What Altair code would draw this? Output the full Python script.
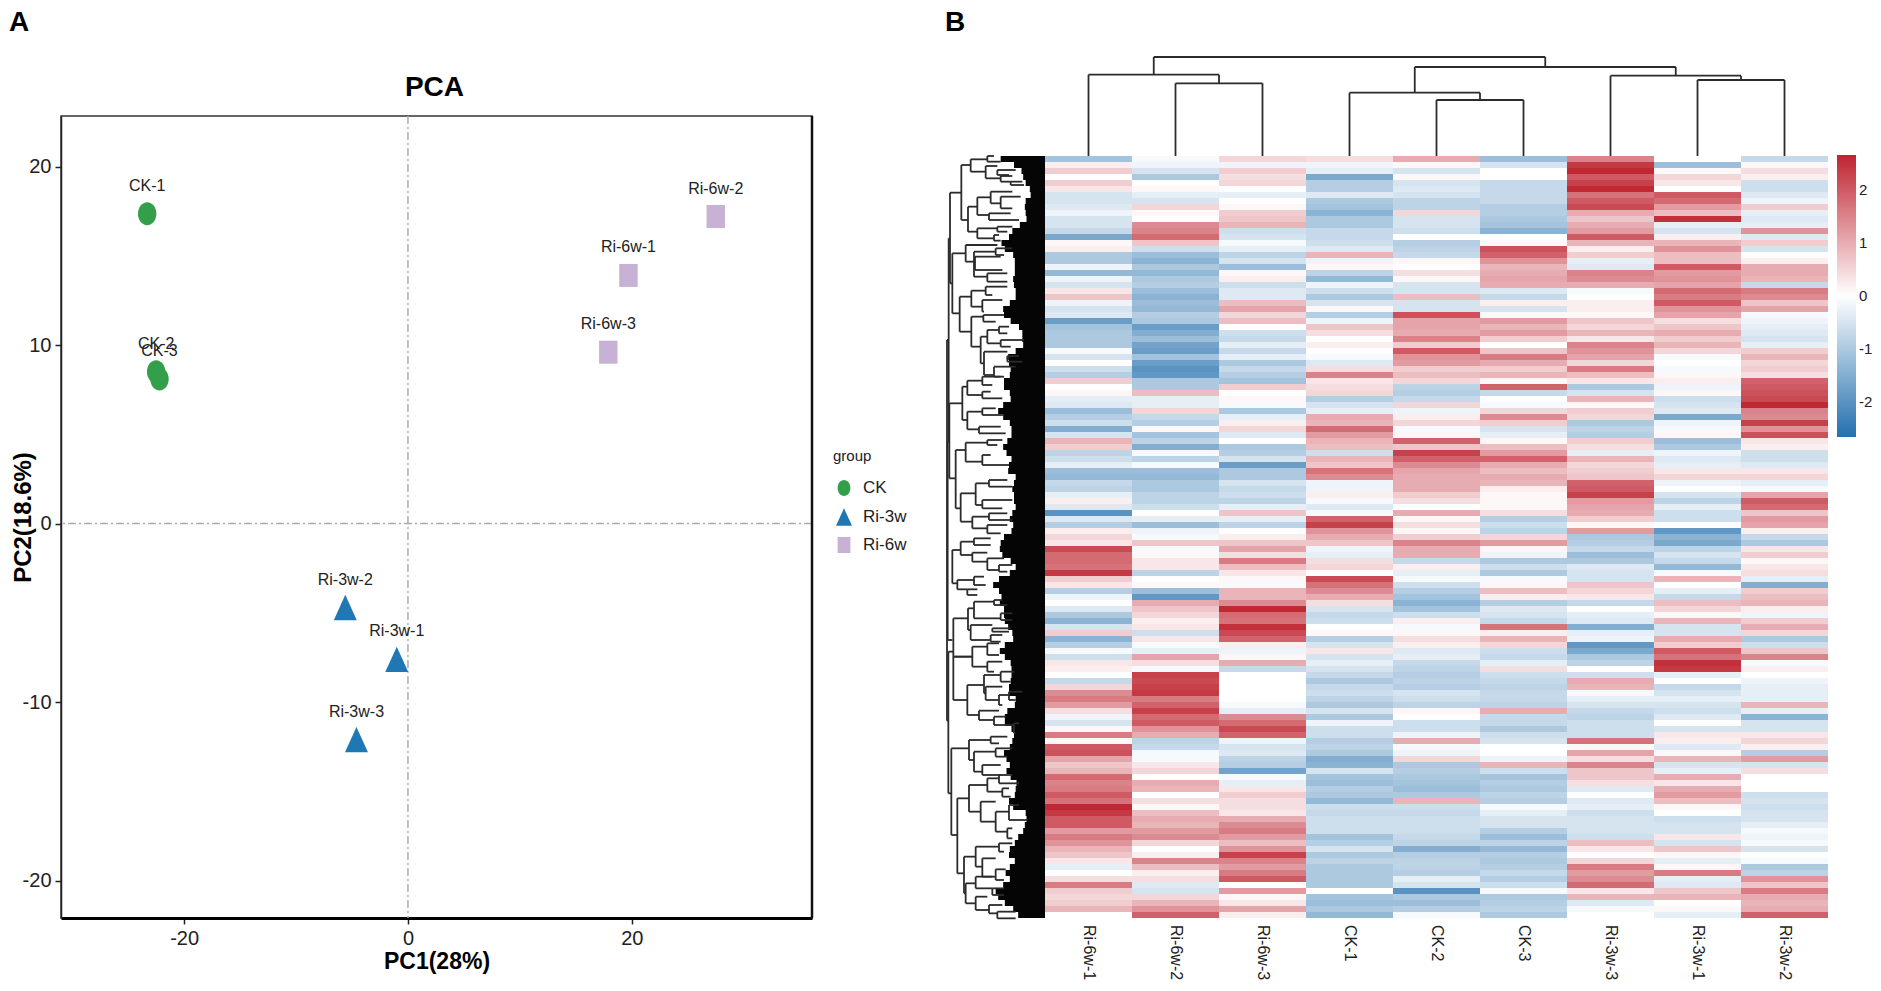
import altair as alt
import pandas as pd

SANS = "Liberation Sans, Arial"

# ---------- panel A ----------
samples = ["CK-1", "CK-2", "CK-3", "Ri-3w-1", "Ri-3w-2", "Ri-3w-3", "Ri-6w-1", "Ri-6w-2", "Ri-6w-3"]
groups = ["CK", "CK", "CK", "Ri-3w", "Ri-3w", "Ri-3w", "Ri-6w", "Ri-6w", "Ri-6w"]
pc1 = [-23.3, -22.5, -22.2, -1.0, -5.6, -4.6, 19.7, 27.5, 17.9]
pc2 = [17.35, 8.5, 8.1, -7.6, -4.7, -12.1, 13.9, 17.2, 9.6]
group_names = ["CK", "Ri-3w", "Ri-6w"]
group_colors = ["#339f4a", "#1f78b4", "#c7b1d5"]
group_shapes = ["M-0.8,0A0.8,1 0 1 1 0.8,0A0.8,1 0 1 1 -0.8,0Z",
                "M0,-1.1L1,1.1L-1,1.1Z",
                "M-0.8,-1L0.8,-1L0.8,1L-0.8,1Z"]

# ---------- panel B: heat map columns, top to bottom ----------
col_names = ["Ri-6w-1", "Ri-6w-2", "Ri-6w-3", "CK-1", "CK-2", "CK-3", "Ri-3w-3", "Ri-3w-1", "Ri-3w-2"]
c0 = [-1.1,.2,.6,0,.6,.3,-.5,-.5,-.4,-.2,-.5,-.5,-.7,-1.6,.1,.2,-1,-1,-.2,-1.3,-.2,-.5,.3,.7,-.2,-.5,-.4,-1.8,-1.1,-1,-1,-1,
      -.1,-.5,0,-.6,-.9,.6,0,.1,-.3,-.4,-1.2,-.9,-.6,-1.5,-.5,.9,.6,-.8,-.6,-.3,-1.2,-1.3,-.7,-.8,-.3,.2,-.4,-2,-.4,-.9,.2,.5,
      .3,2.2,1.8,1.8,1.7,2.4,.6,.3,-.9,-.2,0,-.4,-1,-1.4,-.5,.6,-1.4,-.9,-.1,-.6,.3,.2,0,-.7,.5,1.4,1.6,1.2,.4,-.2,-.5,.1,
      1.6,.1,2,2.1,1.1,.7,.9,1.8,1.5,1.6,2,1.7,2.6,2.4,2,2,1.2,1.6,1.3,.9,.7,.3,-.3,0,.4,1.6,.6,.5,.6,.9,0]
c1 = [-.1,-.2,-.5,-1,0,.1,-.3,-.5,.5,.1,0,1.4,1.5,1.8,.7,-.6,-1.2,-1.4,-1,-1.3,-1,-.9,-1.2,-1.4,-1.2,-1.3,-.9,-1,-1.8,-1.5,-1.2,-1.7,
      -1.8,-1.1,-1.8,-2,-1.9,-1,-1,.8,-.3,-.3,.5,-.7,-.9,.1,-1.1,-.8,-1.5,.1,-.8,-.1,-1.2,-1.3,-1,-1,-.8,-.8,-.6,0,-.3,-1.2,-.2,-.1,
      .7,-.1,.1,.3,.3,-.8,0,.1,-1.2,-1.9,1,.7,.5,.2,.3,-.6,.3,-.1,-.3,1.1,.4,-.1,2.3,2.2,2.3,2.4,1.6,1.9,2.3,1.8,2,1.3,
      1,-.8,-.7,-.1,-.1,.3,.5,0,1,.9,0,.4,.1,.8,1,.9,1.2,1.4,.5,0,.2,1.5,.8,.2,.4,-.4,-.5,.5,.9,1.3,1.9]
c2 = [.5,-.2,.6,.4,.5,0,-.3,0,.1,.6,.7,.9,-.6,-.5,-.1,-.3,-.8,-.5,-1.2,.1,.2,-.6,-.4,-.4,.8,1.1,.5,.8,0,-.6,-.7,-.3,
      -.7,-.3,-1,-.7,-.9,-1.1,.6,0,.1,-.1,-1,-.3,.2,.5,-.4,0,-1,-.9,-.5,-1.8,-1,-1,-.5,-.7,-.6,-.8,-.3,.7,-.3,-.8,0,.2,
      .7,1.1,.4,1.6,.8,.3,.1,-.1,.9,.9,1.4,2.6,1.8,1.7,2.5,2.2,1.9,.2,-.2,.1,1,-.7,0,0,0,0,0,-.1,-.3,1.4,1.8,2.2,
      1.9,-.2,-.5,-.4,-.8,-.9,-1.7,-.1,-.3,.3,.6,.4,.4,.3,1,1.4,1.6,1.2,.8,1.3,2.3,1.5,1.2,1.6,2,0,1.2,.1,.3,1.1,.2]
c3 = [.4,-.2,-.3,-1.6,-.9,-.9,-.4,-1,-1.1,-1.4,-1,-1,-.7,-.7,-.6,-.4,.9,-.2,.1,-.8,-1.3,-.2,-.6,-1,-.5,.1,-.9,-.2,.7,.4,0,.2,
      0,-.1,-.4,.4,1.5,.3,.4,.5,-.9,-.5,-.3,1,.9,1.8,1.2,.9,.8,-.6,.9,.7,1.7,1.4,-.2,-.2,.2,-.1,-.4,-.1,1.9,2.3,1.3,1,
      .7,-.2,-.3,.4,.5,0,2.2,1.7,1.4,1,.4,-.5,-.7,-.6,0,.1,-.9,-.5,.3,-.5,-.3,-.5,-.7,-1,-.7,-.6,-.8,-1,-.5,-1,-.2,-.6,
      -.6,-.9,-.8,-1,-1.5,-1.4,-.5,-1.1,-1.2,-.9,-1,-1.3,-.6,-.7,-.6,-.6,-.6,-1.1,-.9,-.5,-1,-.8,-1,-1,-1,-1,0,-1.1,-1.2,-1,-1.3]
c4 = [1,.1,-.5,.1,-.5,-.4,-.5,-.8,-.8,.5,-.5,-.5,-.6,0,-.9,-.8,-.7,.1,0,.4,.1,-.5,-.5,.8,-.5,-.5,2.1,1.1,1.1,1,1.5,.6,
      2,1.3,1.2,.6,.8,.5,-.8,-.9,-.7,.5,-.2,.2,.5,-.1,.1,1.9,.7,2.3,1.9,1.4,1.1,1,1,1,.6,.4,0,1,.1,.4,.1,.6,
      1.5,1,1,-.7,.2,-.3,-.1,-.6,-.9,-1.1,-1.4,-1.1,-.6,.2,-.1,.1,.4,.2,-.4,-.3,-.7,-.8,-.9,-.8,-.9,-.5,-.6,-.8,.1,0,-.6,-.6,
      -.2,1,-.1,-.2,.5,-1,-.9,-1,-1.1,-1.2,-1,.9,-.6,-.7,-.6,-.6,-.6,-.7,-.8,-1.5,-.9,-.8,-.8,-.9,-.3,-.5,-2,-1,-1.2,-.9,-.1]
c5 = [-1.2,-.5,0,0,-.7,-.7,-.7,-.7,-.9,-.9,-1,-1.1,-1.4,0,.1,2.1,1.9,1.3,.9,1,1.1,1,-.4,-.7,.2,-.5,.1,1.2,.9,1.2,.6,0,
      .7,1.6,1,.6,.9,.1,1.9,-.7,0,-.1,.5,1.4,.6,-.5,-.3,.1,.8,1.2,1.9,1,.8,1,.9,.2,.1,.1,.1,.4,-.9,-.6,-.8,.5,
      1.2,.1,-.2,-1,-.6,-1,-.1,.1,.8,.2,-.9,-.4,-.5,-.7,1.7,.2,.9,.5,-.6,-.7,-.3,.4,-.6,-.7,-.8,-.7,-.7,-.8,1,-.7,-.7,-1,
      -.6,-.5,0,0,-.2,.9,-.6,-1.1,-.9,-1,-.8,-.9,-.1,-.3,-.5,-.5,-.9,-1.2,-.8,-1.3,-.9,-1,-.9,-.7,-.9,-.6,-.1,-1,-.9,-.8,-1]
c6 = [1.5,2.4,2.6,2,2.3,2.6,1.7,2,2.2,1,.7,1,1.2,2,.9,.2,.6,-.3,-.4,1.5,1.4,1,-.1,0,.2,.2,.1,.7,.5,.9,.3,1.5,
      1.3,1.1,.5,1.6,.8,.3,-1,-.5,.9,.1,.6,.5,-1,-.8,-.9,.6,.4,-.3,.9,.5,.6,.7,1.9,2,2.3,1.2,1.1,1,.6,.1,1.2,-1,
      -.9,-.7,-1.2,-1,-.4,-.5,-.5,.7,.5,.3,-.7,0,-.3,-.4,-1.5,-.3,-.2,-1.9,-1.6,-1,-.8,0,-.6,1,.9,-.1,-.3,-.5,-.7,-.8,-.6,-.6,
      -.6,1.7,.1,1.1,.4,1.5,.7,.7,.4,-.4,0,-.4,-.3,-.6,-.5,-.5,-.5,-.6,.8,.3,0,.5,1.6,1.2,1.4,1.8,.3,.9,-.4,-.1,0]
c7 = [0,-1.2,.1,.5,.3,0,2,1.8,1.2,.8,2.5,-.3,-.5,.2,.9,1.3,.8,.8,2,1.2,1.3,1.1,1.8,1.6,2,1.3,1.1,.4,.7,1,.6,.9,
      .5,-.1,0,-.1,.1,.2,-.2,.1,-.6,-.5,-.4,-1.6,-.2,-.1,.1,-1.2,-1,-.2,-.4,-.3,.3,.5,-.2,0,-.5,-.8,-.3,-.6,-.6,0,-1.9,-1.4,
      -1.6,-.8,-.5,-.7,-1.3,-.1,.9,0,-.3,-.7,.8,.5,.1,.9,-.5,-.5,1,.6,2,1.7,2.5,2.4,-.3,0,-.7,-.5,-.3,-.5,-.6,-.4,0,-.5,
      .3,.2,-.4,.1,.9,-.5,-.3,1,.3,1,1.2,.8,.1,0,-.6,-.5,-.5,.3,-.5,.7,.1,-.3,.1,1.6,-.3,-.4,.7,.9,0,.1,-.3]
c8 = [-.7,.1,.4,.2,-.6,-.6,-.4,-.2,.6,-.3,-.4,-.3,1.3,-.4,.6,-.5,0,.2,1,1,.9,-.7,1.6,1.4,.7,1.1,-.1,-.2,-.3,-.4,-.5,-.3,
      .6,.9,.5,.6,.4,1.9,2,2.1,2.2,2.6,1.5,1.4,2.3,1.3,2.1,.3,.2,-.6,-.6,-.4,.3,.5,-.3,-.1,1.1,2,1.8,.7,1.2,1.1,.2,-.7,
      -1,.3,.6,.1,.3,.4,-.3,-1.5,.6,.8,.9,.2,-.2,.6,1,.5,-1,-.6,.7,1.5,-.1,.2,0,-.2,-.3,-.3,-.3,.9,-.3,-1.4,-.5,-.5,
      .3,.5,.2,-.9,1.2,-.5,.4,0,0,0,-.6,-.5,-.6,-.5,-.5,-.3,-.1,-.2,-.1,-.5,0,-.1,-1,-.8,1.3,.7,1.6,1,.9,1,1.9]
heat_cols = [c0, c1, c2, c3, c4, c5, c6, c7, c8]
CELL_W, CELL_H = 87, 6
N_ROWS = len(c0)

# Column tree: (left child position, right child position, merge height, left height, right height)
col_tree = [(1.5, 2.5, 72.7, 0, 0), (0.5, 2.0, 81.3, 0, 72.7),
            (4.5, 5.5, 56, 0, 0), (3.5, 5.0, 63.3, 0, 56),
            (7.5, 8.5, 76, 0, 0), (6.5, 8.0, 80.3, 0, 76),
            (4.25, 7.25, 89, 63.3, 80.3), (1.25, 5.75, 99, 81.3, 89)]

# Row tree, upper half and lower half (left edge, y1, y2, end1, end2)
tree_a = [(14,265,875,18,16),(18,128,400,52,25),(52,45,210,80,72),(80,28,65,130,125),(125,48,85,160,170),(130,18,35,150,170),
 (160,60,75,215,195),(170,78,95,205,200),(200,95,105,235,240),(72,170,245,100,100),(100,142,195,140,135),(140,125,160,205,170),
 (170,140,175,230,205),(135,190,210,200,225),(100,235,265,160,150),(160,230,245,205,190),(150,255,272,165,170),(25,310,490,65,47),
 (65,285,335,160,90),(90,305,380,155,130),(93,320,360,170,175),(155,295,315,205,180),(130,370,395,190,190),(47,440,545,82,82),
 (82,422,470,125,115),(125,410,435,190,145),(115,450,485,175,120),(82,500,590,118,110),(118,495,515,180,155),(110,560,640,130,120),
 (130,540,580,165,170),(165,530,550,195,190),(170,570,590,240,200),(120,605,675,190,150),(190,618,635,225,235),(150,650,680,215,180),
 (16,760,985,55,35),(35,900,1075,65,50),(50,1030,1115,95,85),(65,878,935,130,115),(55,710,810,70,70),(70,692,735,115,115),
 (70,785,838,115,105),(95,1000,1065,135,115),(85,1100,1135,135,130),(115,680,705,170,145),(115,725,745,140,175),(115,775,795,155,180),
 (105,830,850,170,185),(130,870,885,175,160),(115,915,945,140,195),(135,990,1010,190,205),(115,1050,1075,205,175),(135,1090,1110,190,205),
 (130,1125,1150,190,170),(11,875,1470,16,25),(9,570,1712,14,13)]
tree_b = [(25,60,160,50,40),(50,35,75,90,85),(90,25,45,140,140),(85,68,95,130,130),(130,85,120,180,165),(165,105,125,205,190),
 (40,150,178,90,70),(90,140,165,120,125),(70,178,195,100,100),(13,365,790,28,22),(28,265,510,72,70),(72,235,300,90,80),
 (90,215,265,150,170),(150,210,225,175,190),(170,250,270,205,205),(80,285,330,145,140),(145,295,305,200,195),(140,315,335,175,170),
 (28,380,380,85,85),(85,350,410,130,130),(130,340,375,165,165),(130,395,425,175,150),(70,465,555,120,105),(120,435,490,170,125),
 (170,425,455,210,200),(125,470,510,175,165),(165,495,525,195,175),(195,485,510,235,215),(105,542,570,165,150),(150,560,585,185,210),
 (210,580,610,225,215),(22,655,915,75,40),(75,630,690,140,90),(140,620,640,190,165),(90,665,725,155,115),(155,655,680,205,190),
 (115,705,735,170,170),(40,805,1030,75,60),(75,765,845,130,110),(130,745,785,165,175),(165,735,760,205,225),(175,775,800,195,200),
 (110,815,875,155,155),(155,845,905,195,190),(195,825,870,225,250),(190,895,925,205,205),(60,980,1090,95,65),(95,950,1010,165,115),
 (165,940,965,205,180),(115,985,1040,155,155),(155,1018,1050,185,180),(65,1060,1120,95,95),(95,1040,1075,145,145),(95,1100,1140,130,135),
 (145,1075,1095,180,180),(135,1125,1150,175,160),(160,1145,1165,215,215)]
# Left edge of the dense block of leaves
leaf_edge = [150,190,230,235,240,250,265,255,235,250,240,255,200,210,180,165,200,215,210,215,210,205,215,215,215,180,175,185,215,235,235,235,240,
 190,195,195,205,190,170,190,205,195,160,165,190,205,200,205,175,180,195,210,180,205,225,195,215,205,215,215,195,200,215,190,170,
 170,165,185,215,215,180,150,145,185,160,175,185,175,190,195,215,200,165,170,195,205,200,205,195,195,195,235,190,190,175,190,215,205,205,190,170,
 205,190,185,215,220,210,215,175,240,250,245,240,235,210,215,180,210,215,180,190,205,150,160,165,200,215,230]

HEAT_W = CELL_W * 9
HEAT_H = CELL_H * N_ROWS
LEFT = 100
TOP = 40

# ---------- tables ----------
pca = pd.DataFrame({"pc1": pc1, "pc2": pc2, "sample": samples, "group": groups})
heat = pd.DataFrame([
    {"x": i * CELL_W, "x2": (i + 1) * CELL_W, "y": r * CELL_H, "y2": (r + 1) * CELL_H, "v": vals[r]}
    for i, vals in enumerate(heat_cols) for r in range(N_ROWS)])

h_segs, v_segs = [], []
for a, b, h, ha, hb in col_tree:
    xa, xb = a * CELL_W, b * CELL_W
    v_segs.append({"x": xa, "y": -h, "y2": -ha})
    v_segs.append({"x": xb, "y": -h, "y2": -hb})
    h_segs.append({"x": xa, "x2": xb, "y": -h})
def add_row_tree(tree, offset):
    for x, y1, y2, e1, e2 in tree:
        px, p1, p2 = x / 3 - 101, y1 / 3 + offset, y2 / 3 + offset
        v_segs.append({"x": px, "y": p1, "y2": p2})
        h_segs.append({"x": px, "x2": e1 / 3 - 101, "y": p1})
        h_segs.append({"x": px, "x2": e2 / 3 - 101, "y": p2})
add_row_tree(tree_a, -6)
add_row_tree(tree_b, 374)
h_df, v_df = pd.DataFrame(h_segs), pd.DataFrame(v_segs)
edge_df = pd.DataFrame({"x": [e / 3 - 101 for e in leaf_edge],
                        "y": [min(i * CELL_H, HEAT_H) for i in range(len(leaf_edge))],
                        "x2": [0] * len(leaf_edge)})
lab_df = pd.DataFrame({"name": col_names, "x": [(i + .5) * CELL_W for i in range(9)]})

# ---------- panel A chart ----------
PW, PH = 751, 802
xs = alt.Scale(domain=[-31.0, 36.1], nice=False, zero=False)
ys = alt.Scale(domain=[-22.09, 22.83], nice=False, zero=False)
color_scale = alt.Scale(domain=group_names, range=group_colors)
shape_scale = alt.Scale(domain=group_names, range=group_shapes)
x_ax = alt.Axis(values=[-20, 0, 20], grid=False, title="PC1(28%)", labelFont=SANS, labelFontSize=20, labelColor="#222",
                labelExpr="'' + datum.value",
                titleFont=SANS, titleFontSize=23, titleFontWeight="bold", titleColor="#000", titlePadding=2,
                domainColor="#000", domainWidth=3, tickColor="#222", tickSize=6, tickWidth=1.5, labelPadding=4)
y_ax = alt.Axis(values=[-20, -10, 0, 10, 20], grid=False, title="PC2(18.6%)", labelFont=SANS, labelFontSize=20, labelColor="#222",
                labelExpr="'' + datum.value", titleX=-26,
                titleFont=SANS, titleFontSize=24, titleFontWeight="bold", titleColor="#000",
                domainColor="#222", domainWidth=1.5, tickColor="#222", tickSize=6, tickWidth=1.5, labelPadding=4)
pts = alt.Chart(pca).mark_point(filled=True, size=529, opacity=1).encode(
    x=alt.X("pc1:Q", scale=xs, axis=x_ax),
    y=alt.Y("pc2:Q", scale=ys, axis=y_ax),
    color=alt.Color("group:N", scale=color_scale, legend=None),
    shape=alt.Shape("group:N", scale=shape_scale, legend=None),
)
txt = alt.Chart(pca).mark_text(font=SANS, fontSize=16, color="#222", dy=-28).encode(
    x=alt.X("pc1:Q", scale=xs), y=alt.Y("pc2:Q", scale=ys), text="sample:N")
zero_v = alt.Chart(pd.DataFrame({"v": [0]})).mark_rule(color="#aaa", strokeWidth=1.5, strokeDash=[8, 3, 2, 3]).encode(x=alt.X("v:Q", scale=xs))
zero_h = alt.Chart(pd.DataFrame({"v": [0]})).mark_rule(color="#aaa", strokeWidth=1.5, strokeDash=[8, 3, 2, 3]).encode(y=alt.Y("v:Q", scale=ys))
right_edge = alt.Chart(pd.DataFrame({"v": [36.1]})).mark_rule(color="#111", strokeWidth=2.5).encode(x=alt.X("v:Q", scale=xs))
letter_a = alt.Chart(pd.DataFrame({"t": ["A"]})).mark_text(font=SANS, fontSize=28, fontWeight="bold", color="#000", align="left", baseline="top").encode(
    x=alt.value(-52), y=alt.value(-107), text="t:N")
title_a = alt.Chart(pd.DataFrame({"t": ["PCA"]})).mark_text(font=SANS, fontSize=28, fontWeight="bold", color="#000", baseline="middle").encode(
    x=alt.value(PW / 2 - 2), y=alt.value(-28), text="t:N")

# group key, laid out beside the plot
key_df = pd.DataFrame({"group": group_names, "row": [0, 1, 2]})
KEY_Y = [372, 401, 429]
key_marks = []
for g, ky in zip(group_names, KEY_Y):
    one = key_df[key_df.group == g]
    key_marks.append(alt.Chart(one).mark_point(filled=True, size=256, opacity=1).encode(
        x=alt.value(783), y=alt.value(ky),
        color=alt.Color("group:N", scale=color_scale, legend=None),
        shape=alt.Shape("group:N", scale=shape_scale, legend=None)))
    key_marks.append(alt.Chart(one).mark_text(font=SANS, fontSize=17, color="#222", align="left", baseline="middle").encode(
        x=alt.value(802), y=alt.value(ky), text="group:N"))
key_title = alt.Chart(pd.DataFrame({"t": ["group"]})).mark_text(font=SANS, fontSize=15, color="#222", align="left", baseline="middle").encode(
    x=alt.value(772), y=alt.value(340), text="t:N")
panel_a = alt.layer(zero_v, zero_h, right_edge, pts, txt, letter_a, title_a, key_title, *key_marks).properties(
    width=PW, height=PH, view={"stroke": "#333", "strokeWidth": 1.5})

# ---------- panel B chart ----------
hx = alt.Scale(domain=[-LEFT, HEAT_W], nice=False, zero=False)
hy = alt.Scale(domain=[HEAT_H, -TOP], nice=False, zero=False)
RW, RH = HEAT_W + LEFT, HEAT_H + TOP
rects = alt.Chart(heat).mark_rect(strokeWidth=0).encode(
    x=alt.X("x:Q", scale=hx, axis=None), x2="x2:Q",
    y=alt.Y("y:Q", scale=hy, axis=None), y2="y2:Q",
    fill=alt.Fill("v:Q", scale=alt.Scale(domain=[-2.65, 0, 2.65], range=["#2470ae", "#ffffff", "#bf2430"], interpolate="rgb"),
                  legend=alt.Legend(orient="right", offset=9, padding=0, title=" ", titleFontSize=1, titlePadding=38, gradientLength=282, gradientThickness=19,
                                    values=[-2, -1, 0, 1, 2], labelFont=SANS, labelFontSize=15, labelColor="#222", labelOffset=3,
                                    labelOverlap=False, gradientStrokeWidth=0, labelExpr="'' + datum.value")))
mass = alt.Chart(edge_df).mark_area(color="#050505", orient="horizontal", interpolate="step").encode(
    x=alt.X("x:Q", scale=hx, axis=None), x2="x2:Q", y=alt.Y("y:Q", scale=hy, axis=None))
hl = alt.Chart(h_df).mark_rule(color="#2b2b2b", strokeWidth=1.8).encode(
    x=alt.X("x:Q", scale=hx, axis=None), x2="x2:Q", y=alt.Y("y:Q", scale=hy, axis=None))
vl = alt.Chart(v_df).mark_rule(color="#2b2b2b", strokeWidth=1.8).encode(
    x=alt.X("x:Q", scale=hx, axis=None), y=alt.Y("y:Q", scale=hy, axis=None), y2="y2:Q")
col_text = alt.Chart(lab_df).mark_text(font=SANS, fontSize=16, color="#222", angle=90, align="left", baseline="middle").encode(
    x=alt.X("x:Q", scale=hx, axis=None), y=alt.value(RH + 7), text="name:N")
letter_b = alt.Chart(pd.DataFrame({"t": ["B"]})).mark_text(font=SANS, fontSize=28, fontWeight="bold", color="#000", align="left", baseline="top").encode(
    x=alt.value(0), y=alt.value(-107), text="t:N")
panel_b = alt.layer(rects, mass, hl, vl, col_text, letter_b).properties(width=RW, height=RH, view={"stroke": None})

chart = alt.hconcat(panel_a, panel_b, spacing=37, padding=0).resolve_scale(color="independent")
chart.save("out.html", embed_options={"renderer": "svg", "actions": False})
